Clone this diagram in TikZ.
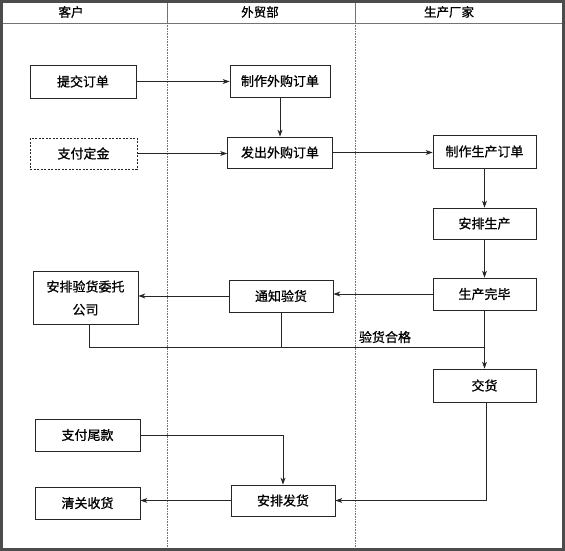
\documentclass[tikz,border=0pt]{standalone}
\usepackage{fontspec}
\newfontfamily\cjk[FakeBold=0.8]{Noto Sans CJK SC}
\usetikzlibrary{arrows.meta}
\begin{document}
\begin{tikzpicture}[x=1pt,y=-1pt,
  box/.style={draw=black!85, line width=0.8pt, inner sep=0pt, minimum width=104pt, minimum height=32pt, font=\cjk\fontsize{13}{16}\selectfont, align=center},
  arr/.style={draw=black!85, line width=0.8pt, -{Stealth[length=7pt,width=5pt]}},
  ln/.style={draw=black!85, line width=0.8pt},
  hdr/.style={font=\cjk\fontsize{12.5}{14}\selectfont},
  lane/.style={draw=black!55, line width=0.6pt}]
\useasboundingbox (0,0) rectangle (565,551);
\fill[white] (0,0) rectangle (565,551);
% lanes
\draw[lane] (3,23) -- (562,23);
\draw[lane] (167,3) -- (167,23);
\draw[lane] (355,3) -- (355,23);
\draw[lane, densely dotted] (167,23) -- (167,548);
\draw[lane, densely dotted] (355,23) -- (355,548);
\node[hdr] (h1) at (71,12) {客户};
\node[hdr] (h2) at (260,12) {外贸部};
\node[hdr] (h3) at (449,12) {生产厂家};
% boxes
\node[box, minimum width=106pt, minimum height=33pt] (tj) at (83,81.5) {提交订单};
\node[box, minimum width=107pt, minimum height=31pt, dash pattern=on 2pt off 1.5pt] (zj) at (83.5,153.5) {支付定金};
\node[box, minimum width=100pt] (zzwg) at (280,81) {制作外购订单};
\node[box, minimum width=105pt, minimum height=31pt] (fcwg) at (280,152.5) {发出外购订单};
\node[box, minimum width=103pt, minimum height=33pt] (zzsc) at (484.5,151.5) {制作生产订单};
\node[box, minimum width=103pt, minimum height=31pt] (apsc) at (484.5,223.5) {安排生产};
\node[box, minimum width=103pt] (scwb) at (484.5,294) {生产完毕};
\node[box, minimum width=103pt, minimum height=33pt] (jh) at (484.5,385.5) {交货};
\node[box, minimum width=104pt] (tzyh) at (281,296) {通知验货};
\node[box, minimum width=105pt, minimum height=53pt, font=\cjk\fontsize{13}{23}\selectfont] (apyh) at (85.5,298) {安排验货委托\\公司};
\node[box, minimum width=105pt] (zfwk) at (87.5,435) {支付尾款};
\node[box, minimum width=105pt] (qgsh) at (87.5,503) {清关收货};
\node[box, minimum width=104pt, minimum height=31pt] (apfh) at (283,500.5) {安排发货};
% connectors
\draw[arr] (tj.east) -- (zzwg.west |- tj.east);
\draw[arr] (zzwg.south) -- (fcwg.north);
\draw[arr] (zj.east) -- (fcwg.west |- zj.east);
\draw[arr] (fcwg.east) -- (zzsc.west |- fcwg.east);
\draw[arr] (zzsc.south) -- (apsc.north);
\draw[arr] (apsc.south) -- (scwb.north);
\draw[arr] (scwb.south) -- (jh.north);
\draw[arr] (scwb.west) -- (tzyh.east |- scwb.west);
\draw[arr] (tzyh.west) -- (apyh.east |- tzyh.west);
\coordinate (j) at (484.5,347);
\draw[ln] ([xshift=3.5pt]apyh.south) |- (j);
\draw[ln] (tzyh.south) -- (tzyh.south |- j);
\node[font=\cjk\fontsize{13}{16}\selectfont] (lbl) at (385,337) {验货合格};
\draw[arr] (zfwk.east) -| (apfh.north);
\draw[arr] ([xshift=2pt]jh.south) |- (apfh.east);
\draw[arr] (apfh.west) -- (qgsh.east |- apfh.west);
% frame
\draw[draw=black!70, line width=3pt] (1.5,1.5) rectangle (563.5,549.5);
\end{tikzpicture}
\end{document}
